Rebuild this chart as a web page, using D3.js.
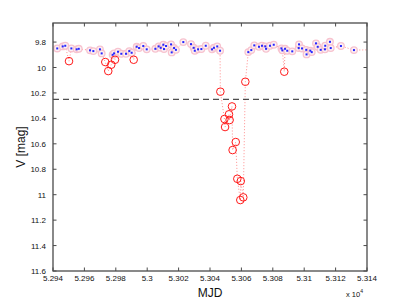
<!DOCTYPE html>
<html>
<head>
<meta charset="UTF-8" />
<style>
  body { margin: 0; background: #fff; font-family: "Liberation Sans", Arial, sans-serif; }
  svg { display: block; }
</style>
</head>
<body>
<div id="chart"></div>
<script src="https://d3js.org/d3.v7.min.js"></script>
<script>
// points hors eclipse (MJD, V)
const mjdBase = [52942.7, 52946.2, 52947.8, 52951.7, 52955.1, 52956.4, 52963.6, 52965.7, 52969.9, 52971.0,
  52978.0, 52978.9, 52981.4, 52983.5, 52986.5, 52988.6, 52990.1, 52993.3, 52994.8, 52997.5,
  52999.7, 53005.2, 53007.3, 53008.6, 53010.3, 53010.7, 53012.0, 53015.2, 53015.6, 53017.1,
  53018.3, 53023.0, 53027.9, 53029.6, 53030.3, 53032.4, 53034.5, 53037.3, 53041.3, 53042.5,
  53044.6, 53046.4, 53064.4, 53066.3, 53068.2, 53071.2, 53073.1, 53075.2, 53075.7, 53078.2,
  53080.6, 53085.5, 53086.1, 53087.8, 53089.2, 53092.4, 53096.5, 53096.7, 53098.6, 53101.3,
  53101.5, 53103.9, 53104.8, 53107.5, 53108.6, 53110.5, 53113.2, 53113.4, 53116.4, 53116.9,
  53123.4, 53131.7, 53146.0];
const magBase = [9.850, 9.834, 9.829, 9.850, 9.857, 9.853, 9.865, 9.871, 9.857, 9.889,
  9.900, 9.889, 9.876, 9.892, 9.892, 9.871, 9.884, 9.837, 9.847, 9.831,
  9.857, 9.853, 9.834, 9.845, 9.821, 9.855, 9.831, 9.818, 9.881, 9.847,
  9.861, 9.800, 9.816, 9.845, 9.868, 9.857, 9.855, 9.829, 9.857, 9.845,
  9.834, 9.868, 9.879, 9.863, 9.826, 9.837, 9.829, 9.834, 9.853, 9.829,
  9.821, 9.850, 9.865, 9.853, 9.868, 9.873, 9.847, 9.818, 9.850, 9.861,
  9.897, 9.868, 9.879, 9.810, 9.837, 9.861, 9.857, 9.829, 9.798, 9.847,
  9.831, 9.863, 9.860];

// points signales (cercles rouges)
const mjdFlag = [52950.2, 52973.3, 52975.2, 52977.1, 52979.5, 52991.4,
  53046.6, 53049.2, 53049.6, 53052.1, 53052.5, 53054.0, 53054.4, 53056.4,
  53057.4, 53059.3, 53059.6, 53061.2, 53062.5, 53087.3];
const magFlag = [9.950, 9.957, 10.028, 9.978, 9.939, 9.939,
  10.190, 10.405, 10.468, 10.368, 10.413, 10.306, 10.649, 10.586,
  10.875, 11.042, 10.893, 11.021, 10.112, 10.033];

const threshold = 10.25;
const xTicks = [52940, 52960, 52980, 53000, 53020, 53040, 53060, 53080, 53100, 53120, 53140];
const yTicks = [9.8, 10, 10.2, 10.4, 10.6, 10.8, 11, 11.2, 11.4, 11.6];

const W = 407, H = 306;
const mLeft = 53, mRight = 367, mTop = 23, mBottom = 271;

const x = d3.scaleLinear().domain([52940, 53140]).range([mLeft, mRight]);
const y = d3.scaleLinear().domain([9.65, 11.6]).range([mTop, mBottom]);

const svg = d3.select("#chart").append("svg").attr("width", W).attr("height", H);

svg.append("clipPath").attr("id", "clip")
  .append("rect").attr("x", mLeft).attr("y", mTop).attr("width", mRight - mLeft).attr("height", mBottom - mTop);

const base = mjdBase.map((m, i) => ({ mjd: m, mag: magBase[i] }));
const flag = mjdFlag.map((m, i) => ({ mjd: m, mag: magFlag[i] }));
const all = base.concat(flag).sort((a, b) => a.mjd - b.mjd);

const plot = svg.append("g").attr("clip-path", "url(#clip)");

// ligne pointillee rouge reliant tous les points
plot.append("path")
  .datum(all)
  .attr("fill", "none")
  .attr("stroke", "#ff4d4d")
  .attr("stroke-width", 0.9)
  .attr("stroke-dasharray", "1 2")
  .attr("opacity", 0.7)
  .attr("d", d3.line().x(d => x(d.mjd)).y(d => y(d.mag)));

// seuil
plot.append("line")
  .attr("x1", mLeft).attr("x2", mRight)
  .attr("y1", y(threshold)).attr("y2", y(threshold))
  .attr("stroke", "#222")
  .attr("stroke-width", 1)
  .attr("stroke-dasharray", "6 4");

// halos roses
plot.selectAll("circle.halo")
  .data(base)
  .enter()
  .append("circle")
  .attr("class", "halo")
  .attr("cx", d => x(d.mjd))
  .attr("cy", d => y(d.mag))
  .attr("r", 3.3)
  .attr("fill", "#fdf0f3")
  .attr("stroke", "#f7c3cf")
  .attr("stroke-width", 1.3);

// points bleus
plot.selectAll("rect.dot")
  .data(base)
  .enter()
  .append("rect")
  .attr("class", "dot")
  .attr("x", d => x(d.mjd) - 1)
  .attr("y", d => y(d.mag) - 1)
  .attr("width", 2)
  .attr("height", 2)
  .attr("fill", "#2525ff");

// cercles rouges
plot.selectAll("circle.flag")
  .data(flag)
  .enter()
  .append("circle")
  .attr("class", "flag")
  .attr("cx", d => x(d.mjd))
  .attr("cy", d => y(d.mag))
  .attr("r", 3.8)
  .attr("fill", "none")
  .attr("stroke", "#ff1a1a")
  .attr("stroke-width", 1);

// axes (style matlab, ticks vers l'interieur)
const tl = 3.5;
const axisColor = "#4a4a4a";

svg.append("rect")
  .attr("x", mLeft).attr("y", mTop)
  .attr("width", mRight - mLeft).attr("height", mBottom - mTop)
  .attr("fill", "none")
  .attr("stroke", axisColor)
  .attr("stroke-width", 1.3);

const g = svg.append("g").attr("stroke", axisColor).attr("stroke-width", 1);
xTicks.forEach(t => {
  g.append("line").attr("x1", x(t)).attr("x2", x(t)).attr("y1", mBottom).attr("y2", mBottom - tl);
  g.append("line").attr("x1", x(t)).attr("x2", x(t)).attr("y1", mTop).attr("y2", mTop + tl);
});
yTicks.forEach(t => {
  g.append("line").attr("x1", mLeft).attr("x2", mLeft + tl).attr("y1", y(t)).attr("y2", y(t));
  g.append("line").attr("x1", mRight).attr("x2", mRight - tl).attr("y1", y(t)).attr("y2", y(t));
});

svg.selectAll("text.xt")
  .data(xTicks)
  .enter()
  .append("text")
  .attr("x", d => x(d))
  .attr("y", mBottom + 10)
  .attr("text-anchor", "middle")
  .attr("font-size", 8)
  .attr("fill", "#111")
  .text(d => String(+(d / 1e4).toFixed(4)));

svg.selectAll("text.yt")
  .data(yTicks)
  .enter()
  .append("text")
  .attr("x", mLeft - 7)
  .attr("y", d => y(d) + 3)
  .attr("text-anchor", "end")
  .attr("font-size", 8)
  .attr("fill", "#111")
  .text(d => String(d));

svg.append("text")
  .attr("x", (mLeft + mRight) / 2)
  .attr("y", 297)
  .attr("text-anchor", "middle")
  .attr("font-size", 12)
  .attr("fill", "#111")
  .text("MJD");

svg.append("text")
  .attr("transform", `translate(25, ${(mTop + mBottom) / 2}) rotate(-90)`)
  .attr("text-anchor", "middle")
  .attr("font-size", 12)
  .attr("fill", "#111")
  .text("V [mag]");

const mult = svg.append("text")
  .attr("x", 346)
  .attr("y", 297)
  .attr("font-size", 7.5)
  .attr("fill", "#111");
mult.append("tspan").text("x 10");
mult.append("tspan").attr("dy", -4).attr("font-size", 5).text("4");
</script>
</body>
</html>
